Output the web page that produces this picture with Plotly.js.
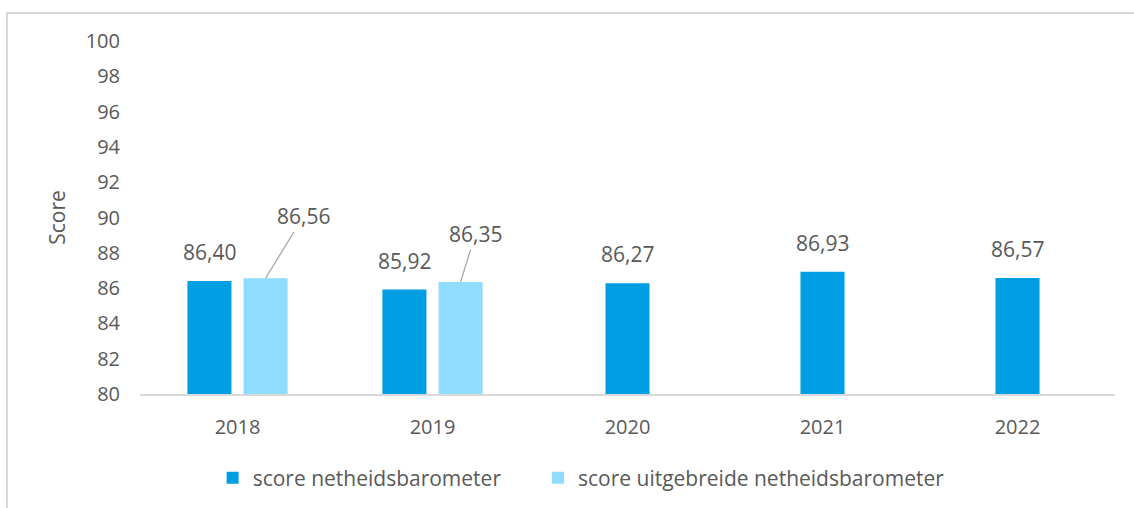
<!DOCTYPE html>
<html>
<head>
<meta charset="utf-8">
<script src="https://cdn.plot.ly/plotly-3.0.1.min.js"></script>
<style>
html,body{margin:0;padding:0;background:#fff;}
#wrap{position:relative;width:1134px;height:508px;overflow:hidden;}
#chart{width:1134px;height:508px;}
#frame{position:absolute;left:6px;top:12px;width:1200px;height:600px;border-left:2px solid #d9d9d9;border-top:2px solid #d9d9d9;pointer-events:none;}
</style>
</head>
<body>
<div id="wrap"><div id="chart"></div><div id="frame"></div></div>
<script>
const years = ['2018', '2019', '2020', '2021', '2022'];
const scoreNetheid = [86.40, 85.92, 86.27, 86.93, 86.57];
const scoreUitgebreid = [86.56, 86.35, null, null, null];
const seriesNames = ['score netheidsbarometer', 'score uitgebreide netheidsbarometer'];
const yTicks = [80, 82, 84, 86, 88, 90, 92, 94, 96, 98, 100];

const darkColor = '#009FE3';
const lightColor = '#8FDCFF';
const textColor = '#595959';
const FONT = 'Open Sans, sans-serif';

const barW = 0.226;
const pairGap = 0.031;
const darkOffsets = scoreUitgebreid.map(v => v == null ? -barW / 2 : -barW - pairGap);
const lightOffsets = scoreUitgebreid.map(() => pairGap);

const fmt = v => v.toFixed(2).replace('.', ',');

const traces = [
  {
    type: 'bar', name: seriesNames[0], x: years, y: scoreNetheid,
    width: barW, offset: darkOffsets,
    marker: {color: darkColor},
    hoverinfo: 'skip', legend: 'legend'
  },
  {
    type: 'bar', name: seriesNames[1], x: years, y: scoreUitgebreid,
    width: barW, offset: lightOffsets,
    marker: {color: lightColor},
    hoverinfo: 'skip', legend: 'legend2'
  }
];

const annotations = [];
scoreNetheid.forEach((v, i) => {
  const off = darkOffsets[i] + barW / 2;
  annotations.push({
    x: i + off, y: v, xref: 'x', yref: 'y', text: fmt(v),
    showarrow: false, yanchor: 'bottom', yshift: 13,
    font: {family: FONT, size: 21, color: textColor}
  });
});
scoreUitgebreid.forEach((v, i) => {
  if (v == null) return;
  const off = lightOffsets[i] + barW / 2;
  annotations.push({
    x: i + off, y: v, xref: 'x', yref: 'y', text: fmt(v),
    showarrow: true, arrowhead: 0, arrowwidth: 1.3, arrowcolor: '#a6a6a6',
    ax: i === 0 ? 38 : 15, ay: i === 0 ? -62 : -48, standoff: 0,
    font: {family: FONT, size: 21, color: textColor}
  });
});

const legendBase = {
  orientation: 'h', xref: 'container', yref: 'container',
  xanchor: 'left', y: 0.059, yanchor: 'middle',
  font: {family: FONT, size: 21, color: textColor},
  itemwidth: 30, bgcolor: 'rgba(0,0,0,0)'
};

const layout = {
  width: 1134, height: 508,
  margin: {l: 140, r: 19, t: 41, b: 114},
  paper_bgcolor: '#fff', plot_bgcolor: '#fff',
  barmode: 'overlay',
  showlegend: true,
  legend: Object.assign({}, legendBase, {x: 0.1875}),
  legend2: Object.assign({}, legendBase, {x: 0.4744}),
  xaxis: {
    type: 'category', range: [-0.5, 4.5],
    showline: true, linecolor: '#d9d9d9', linewidth: 2,
    ticks: '', showgrid: false, zeroline: false,
    tickfont: {family: FONT, size: 20, color: textColor},
    ticklabelstandoff: 14
  },
  yaxis: {
    range: [80, 100], tickvals: yTicks, ticktext: yTicks.map(String),
    showline: false, showgrid: false, zeroline: false, ticks: '',
    ticklabelstandoff: 19,
    tickfont: {family: FONT, size: 20, color: textColor},
    title: {text: 'Score', font: {family: FONT, size: 21, color: textColor}, standoff: 14}
  },
  annotations: annotations
};

Plotly.newPlot('chart', traces, layout, {displayModeBar: false, staticPlot: true});
</script>
</body>
</html>
